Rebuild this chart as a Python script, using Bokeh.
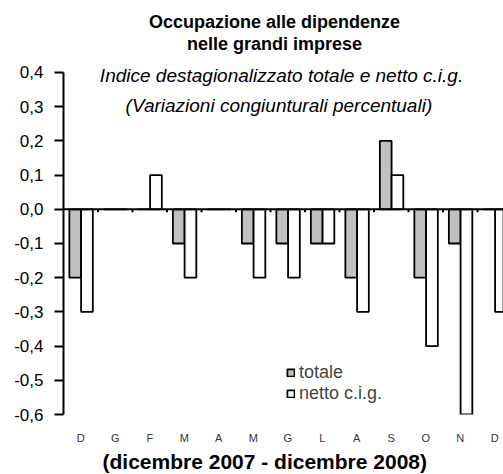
from bokeh.plotting import figure
from bokeh.models import (ColumnDataSource, Range1d, FixedTicker, CustomJSTickFormatter,
                          Label, Legend, LegendItem, Span, Title)
from bokeh.embed import file_html
from bokeh.resources import INLINE

months = ["D", "G", "F", "M", "A", "M", "G", "L", "A", "S", "O", "N", "D"]
totale = [-0.2, 0.0, 0.0, -0.1, 0.0, -0.1, -0.1, -0.1, -0.2, 0.2, -0.2, -0.1, 0.0]
netto = [-0.3, 0.0, 0.1, -0.2, 0.0, -0.2, -0.2, -0.1, -0.3, 0.1, -0.4, -0.6, -0.3]
y_ticks = [-0.6, -0.5, -0.4, -0.3, -0.2, -0.1, 0.0, 0.1, 0.2, 0.3, 0.4]

FONT = "Liberation Sans"
idx = list(range(len(months)))
src = ColumnDataSource(dict(
    xt=[i - 0.16 for i in idx], xn=[i + 0.18 for i in idx],
    totale=totale, netto=netto))

p = figure(width=503, height=474, output_backend="svg", toolbar_location=None,
           x_range=Range1d(-0.5, 12.254), y_range=Range1d(-0.6, 0.6105),
           min_border_left=63, min_border_right=0, min_border_top=0, min_border_bottom=60,
           outline_line_color=None)
p.xgrid.visible = False
p.ygrid.visible = False

r1 = p.vbar(x="xt", top="totale", bottom=0, width=0.34, source=src,
            fill_color="#c0c0c0", line_color="black", line_width=1.8)
r2 = p.vbar(x="xn", top="netto", bottom=0, width=0.34, source=src,
            fill_color="white", line_color="black", line_width=1.8)

# zero line with small ticks at category boundaries
p.add_layout(Span(location=0, dimension="width", line_color="black", line_width=2))
bounds = [i + 0.5 for i in idx[:-1]]
p.segment(x0=bounds, x1=bounds, y0=[0] * len(bounds), y1=[-0.009] * len(bounds),
          line_color="black", line_width=2)

# y axis
ya = p.yaxis[0]
ya.ticker = FixedTicker(ticks=y_ticks)
ya.bounds = (-0.6, 0.4)
ya.formatter = CustomJSTickFormatter(code="return tick.toFixed(1).replace('.', ',');")
ya.axis_line_width = 2
ya.major_tick_line_width = 2
ya.major_tick_out = 9
ya.major_tick_in = 0
ya.minor_tick_line_color = None
ya.major_label_standoff = 11
ya.major_label_text_font = FONT
ya.major_label_text_font_size = "17px"
ya.major_label_text_color = "black"

# x axis with month labels
xa = p.xaxis[0]
xa.ticker = FixedTicker(ticks=idx)
xa.major_label_overrides = {i: m for i, m in zip(idx, months)}
xa.axis_line_color = None
xa.major_tick_line_color = None
xa.minor_tick_line_color = None
xa.major_label_standoff = 11
xa.major_label_text_font = FONT
xa.major_label_text_font_size = "11px"
xa.major_label_text_color = "#333333"

p.add_layout(Title(text="(dicembre 2007 - dicembre 2008)", align="left", offset=39,
                   standoff=3, text_font=FONT, text_font_size="21px",
                   text_font_style="bold", text_color="black"), "below")

legend = Legend(items=[LegendItem(label="totale", renderers=[r1]),
                       LegendItem(label="netto c.i.g.", renderers=[r2])],
                location=(223, 10), orientation="vertical",
                label_text_font=FONT, label_text_font_size="18px",
                glyph_width=9, glyph_height=9, label_height=15, label_standoff=4,
                spacing=0, padding=0, margin=0,
                border_line_color=None, background_fill_alpha=0)
p.add_layout(legend)

def lab(x, y, t, size, style):
    p.add_layout(Label(x=x, y=y, text=t, text_align="center", text_baseline="middle",
                       text_font=FONT, text_font_size=size, text_font_style=style,
                       text_color="black"))

lab(5.616, 0.549, "Occupazione alle dipendenze", "18px", "bold")
lab(5.616, 0.482, "nelle grandi imprese", "18px", "bold")
lab(5.82, 0.391, "Indice destagionalizzato totale e netto c.i.g.", "19px", "italic")
lab(5.82, 0.3035, "(Variazioni congiunturali  percentuali)", "19px", "italic")

open("out.html", "w").write(file_html(p, INLINE))
